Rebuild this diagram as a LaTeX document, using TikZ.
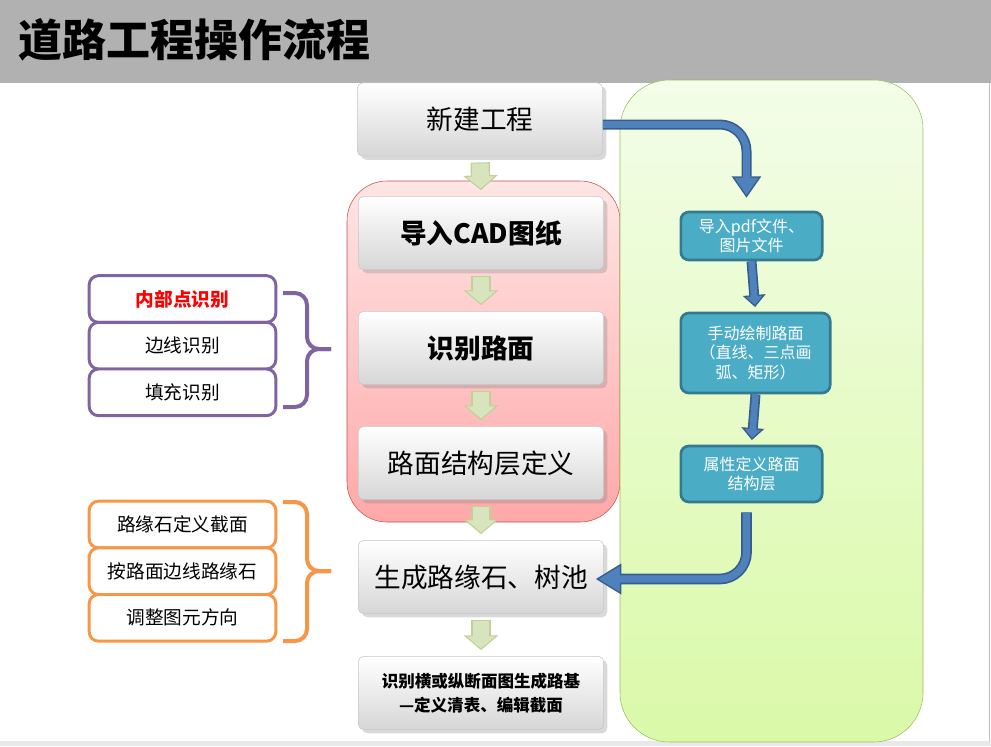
\documentclass[tikz,border=0pt]{standalone}
\usepackage{fontspec}
\setmainfont{Noto Sans CJK SC}
\usetikzlibrary{arrows.meta, positioning, shadows, calc}
\definecolor{titlegray}{RGB}{178,177,178}
\definecolor{panelgreen}{RGB}{155,187,89}
\definecolor{greentop}{RGB}{243,253,232}
\definecolor{greenbot}{RGB}{218,249,168}
\definecolor{pinkedge}{RGB}{192,80,77}
\definecolor{pinktop}{RGB}{255,229,229}
\definecolor{pinkbot}{RGB}{255,168,168}
\definecolor{tealfill}{RGB}{75,172,198}
\definecolor{tealedge}{RGB}{52,122,142}
\definecolor{bluefill}{RGB}{79,129,189}
\definecolor{blueedge}{RGB}{56,93,138}
\definecolor{arrowgreen}{RGB}{215,228,189}
\definecolor{arrowedge}{RGB}{190,210,150}
\definecolor{groupviolet}{RGB}{128,100,162}
\definecolor{grouporange}{RGB}{247,150,70}
\tikzset{
	stepbox/.style={draw=gray!45, rounded corners=4pt, top color=white, bottom color=black!16,
		minimum width=184pt, minimum height=55pt, align=center,
		drop shadow={opacity=0.3}, font=\fontsize{20}{24}\selectfont},
	sidebox/.style={draw=tealedge, line width=2pt, fill=tealfill, rounded corners=6pt,
		text=white, align=center, inner sep=2pt, font=\fontsize{12}{14.5}\selectfont},
	groupbox/.style={draw=#1, line width=2.2pt, rounded corners=7pt, fill=white,
		minimum width=140pt, minimum height=35pt, font=\fontsize{14}{16}\selectfont},
	groupbrace/.style={draw=#1, line width=3pt, rounded corners=9pt},
	garrow/.style={draw=arrowedge, line width=14.5pt, shorten <=4.5pt, shorten >=4.5pt,
		-{Triangle[length=11pt, width=26pt, fill=arrowgreen, line width=0.8pt]}},
	garrowin/.style={draw=arrowgreen, line width=12.5pt, shorten <=5.3pt, shorten >=14pt},
	barrow/.style={draw=blueedge, line width=#1, rounded corners=20pt},
	barrowin/.style={draw=bluefill, line width=#1, rounded corners=20pt}
}
\begin{document}
\begin{tikzpicture}[x=0.75pt, y=-0.75pt]
	\useasboundingbox (0,0) rectangle (991,746);
	% background
	\fill[titlegray] (0,0) rectangle (991,83);
	\fill[black!9] (0,741) rectangle (991,746);
	\draw[black!25] (989,83) -- (989,741);
	\node[anchor=west, font=\fontsize{33}{36}\selectfont\bfseries] (title) at (14,40) {道路工程操作流程};
	% panels
	\draw[pinkedge, top color=pinktop, bottom color=pinkbot, rounded corners=30pt] (347,181) rectangle (620,522);
	\draw[panelgreen, top color=greentop, bottom color=greenbot, rounded corners=37pt] (620,80) rectangle (923,742);
	% main steps
	\node[stepbox] (new) at (480,119.5) {新建工程};
	\node[stepbox, font=\fontsize{20}{24}\selectfont\bfseries] (cad) at (481,233) {导入CAD图纸};
	\node[stepbox, font=\fontsize{20}{24}\selectfont\bfseries] (road) at (481,348) {识别路面};
	\node[stepbox] (layer) at (481,463) {路面结构层定义};
	\node[stepbox] (curb) at (481,577) {生成路缘石、树池};
	\node[stepbox, font=\fontsize{12.4}{18}\selectfont\bfseries] (sect) at (481,693) {识别横或纵断面图生成路基\\—定义清表、编辑截面};
	\foreach \a/\b in {new/cad, cad/road, road/layer, layer/curb, curb/sect} {
		\draw[garrow] (\a.south) -- (\b.north);
		\draw[garrowin] (\a.south) -- (\b.north);
	}
	% recognition options
	\node[groupbox=groupviolet, text=red, font=\fontsize{14}{16}\selectfont\bfseries] (ptin) at (182.5,299) {内部点识别};
	\node[groupbox=groupviolet, below=-2.2pt of ptin] (ptedge) {边线识别};
	\node[groupbox=groupviolet, below=-2.2pt of ptedge] (ptfill) {填充识别};
	\draw[groupbrace=groupviolet] (283,293) -- (307,293) -- (307,349) -- (331,349);
	\draw[groupbrace=groupviolet] (283,407) -- (307,407) -- (307,349) -- (331,349);
	% curb options
	\node[groupbox=grouporange] (cdef) at (182.5,524.5) {路缘石定义截面};
	\node[groupbox=grouporange, below=-2.2pt of cdef] (cedge) {按路面边线路缘石};
	\node[groupbox=grouporange, below=-2.2pt of cedge] (cdir) {调整图元方向};
	\draw[groupbrace=grouporange] (283,502) -- (307,502) -- (307,571) -- (331,571);
	\draw[groupbrace=grouporange] (283,641) -- (307,641) -- (307,571) -- (331,571);
	% manual branch
	\node[sidebox, minimum width=106pt, minimum height=36pt] (pdf) at (751.5,236) {导入pdf文件、\\图片文件};
	\node[sidebox, minimum width=112pt, minimum height=60pt] (manual) at (755.5,353) {手动绘制路面\\（直线、三点画\\弧、矩形）};
	\node[sidebox, minimum width=106pt, minimum height=42pt] (attr) at (751.5,474) {属性定义路面\\结构层};
	\draw[barrow=7.5pt, -{Triangle[length=16pt, width=22pt, fill=bluefill, line width=1pt]}]
		($(new.east)+(0,5)$) -| ($(pdf.north)+(-5,-13)$);
	\draw[barrowin=5pt, shorten >=14pt] ($(new.east)+(0,5)$) -| ($(pdf.north)+(-5,-13)$);
	\foreach \a/\b in {pdf/manual, manual/attr} {
		\draw[barrow=7.5pt, shorten >=3.5pt, -{Triangle[length=9pt, width=17pt, fill=bluefill, line width=1pt]}]
			(\a.south) -- (\b.north);
		\draw[barrowin=5pt, shorten >=11pt] (\a.south) -- (\b.north);
	}
	\draw[barrow=8pt, -{Triangle[length=19pt, width=23pt, fill=bluefill, line width=1pt]}]
		($(attr.south)+(-5,9)$) |- ($(curb.east)+(-8,2)$);
	\draw[barrowin=5.5pt, shorten >=17pt] ($(attr.south)+(-5,9)$) |- ($(curb.east)+(-8,2)$);
\end{tikzpicture}
\end{document}
